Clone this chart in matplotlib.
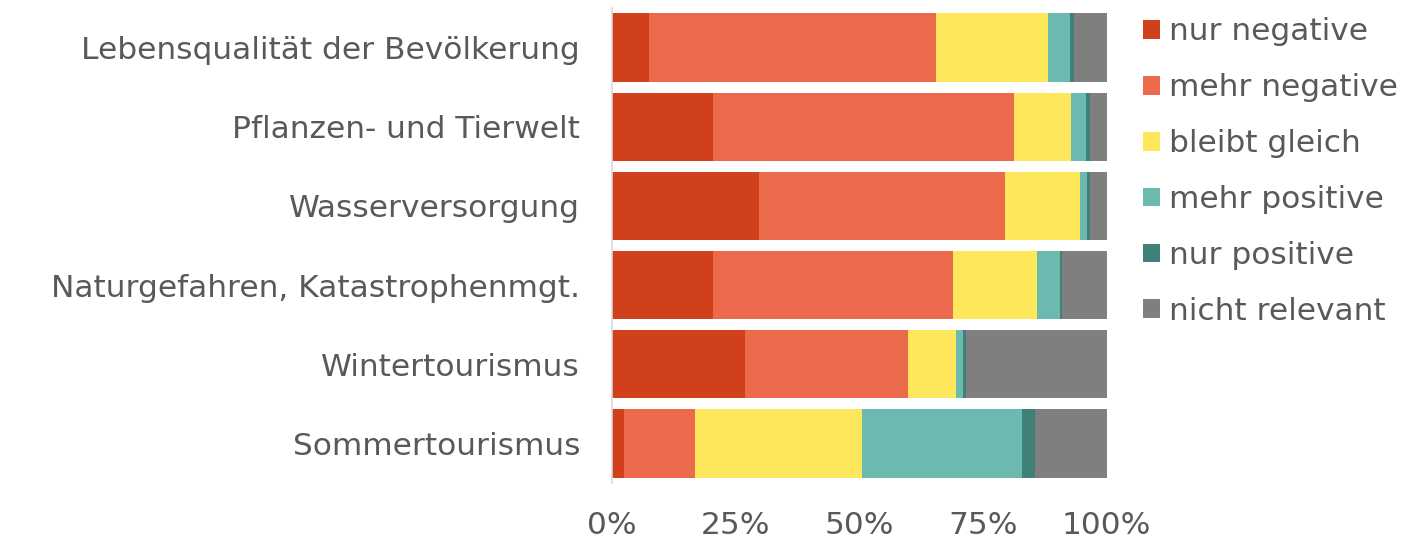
import numpy as np
import matplotlib
matplotlib.use('Agg')
import matplotlib.pyplot as plt
from matplotlib.patches import Patch

categories = [
    "Lebensqualität der Bevölkerung",
    "Pflanzen- und Tierwelt",
    "Wasserversorgung",
    "Naturgefahren, Katastrophenmgt.",
    "Wintertourismus",
    "Sommertourismus",
]
series_names = ["nur negative", "mehr negative", "bleibt gleich",
                "mehr positive", "nur positive", "nicht relevant"]
nur_negative = [7.5, 20.5, 29.8, 20.5, 26.9, 2.4]
mehr_negative = [58.0, 60.7, 49.7, 48.5, 33.0, 14.4]
bleibt_gleich = [22.6, 11.6, 15.1, 16.9, 9.7, 33.8]
mehr_positive = [4.5, 3.1, 1.4, 4.7, 1.3, 32.3]
nur_positive = [0.8, 0.8, 0.7, 0.5, 0.6, 2.6]
nicht_relevant = [6.6, 3.3, 3.3, 8.9, 28.5, 14.5]
xticks = [0, 25, 50, 75, 100]
xtick_labels = ["0%", "25%", "50%", "75%", "100%"]

colors = ["#D0401B", "#EC6A4C", "#FFE75C", "#6CB9B0", "#3F8079", "#7F7F7F"]
text_color = "#595959"

plt.rcParams['font.family'] = ['DejaVu Sans']

series = [nur_negative, mehr_negative, bleibt_gleich,
          mehr_positive, nur_positive, nicht_relevant]

fig = plt.figure(figsize=(14.24, 5.41), dpi=100)
ax = fig.add_axes([612 / 1424, 1 - 483 / 541, 494.5 / 1424, 475 / 541])

y = np.arange(len(categories))
left = np.zeros(len(categories))
for vals, col in zip(series, colors):
    vals = np.array(vals)
    ax.barh(y, vals, left=left, height=0.865, color=col, edgecolor="none")
    left += vals

ax.set_ylim(len(categories) - 0.5, -0.5)
ax.set_xlim(0, 100)
ax.set_yticks(y)
ax.set_yticklabels(categories, fontsize=22.5, color=text_color)
ax.set_xticks(xticks)
ax.set_xticklabels(xtick_labels, fontsize=22.5, color=text_color)
ax.tick_params(axis="y", length=0, pad=23)
ax.tick_params(axis="x", length=0, pad=20)
for side in ["top", "right", "bottom"]:
    ax.spines[side].set_visible(False)
ax.spines["left"].set_color("#D9D9D9")
ax.spines["left"].set_linewidth(1.2)

handles = [Patch(facecolor=c, edgecolor="none") for c in colors]
leg = fig.legend(handles, series_names, loc="upper left",
                 bbox_to_anchor=(1130 / 1424, 1 - 5 / 541), frameon=False,
                 fontsize=22.5, handlelength=0.55, handleheight=0.55,
                 handletextpad=0.3, labelspacing=0.86, borderaxespad=0)
for t in leg.get_texts():
    t.set_color(text_color)

fig.savefig("out.png", dpi=100)
